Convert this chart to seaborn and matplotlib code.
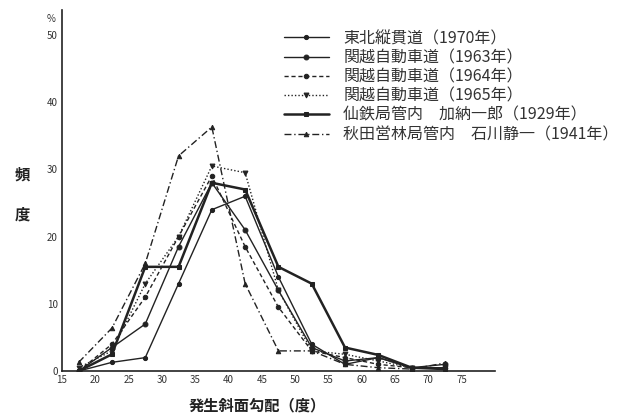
import matplotlib
matplotlib.use("Agg")
import matplotlib.pyplot as plt
import matplotlib.transforms as mtransforms
import pandas as pd
import seaborn as sns

# Slope-gradient classes (class midpoints, degrees)
slope_deg = [17.5, 22.5, 27.5, 32.5, 37.5, 42.5, 47.5, 52.5, 57.5, 62.5, 67.5, 72.5]

# Frequency (%) per slope class for each survey
tohoku_1970 = [0, 1.3, 2, 13, 24, 26, 14, 4, 1, 2, 0.5, 0.5]
kanetsu_1963 = [0, 3.5, 7, 18.5, 28, 21, 12, 3.5, 1.5, 2, 0.5, 1]
kanetsu_1964 = [0, 4, 11, 20, 29, 18.5, 9.5, 3, 2, 1, 0.5, 0.5]
kanetsu_1965 = [0.5, 3, 13, 20, 30.5, 29.5, 12, 3, 2.5, 1.5, 0.5, 0.5]
sentetsu_1929 = [0, 2.5, 15.5, 15.5, 28, 27, 15.5, 13, 3.5, 2.4, 0.5, 0.3]
akita_1941 = [1.3, 6.4, 16, 32, 36.3, 13, 3, 3, 1, 0.5, 0.3, 1.2]

series_labels = [
    "東北縦貫道（1970年）",
    "関越自動車道（1963年）",
    "関越自動車道（1964年）",
    "関越自動車道（1965年）",
    "仙鉄局管内　加納一郎（1929年）",
    "秋田営林局管内　石川静一（1941年）",
]
series_values = [tohoku_1970, kanetsu_1963, kanetsu_1964, kanetsu_1965,
                 sentetsu_1929, akita_1941]

x_ticks = [15, 20, 25, 30, 35, 40, 45, 50, 55, 60, 65, 70, 75]
y_ticks = [0, 10, 20, 30, 40, 50]

sns.set_theme(style="white")
plt.rcParams["font.family"] = ["Noto Sans CJK JP", "DejaVu Sans"]

ink = "#222222"
styles = [
    dict(linestyle="-", marker="o", markersize=3, linewidth=1.0),
    dict(linestyle="-", marker="o", markersize=3.5, linewidth=1.0),
    dict(linestyle=(0, (3, 2)), marker="o", markersize=3.2, linewidth=1.0),
    dict(linestyle=(0, (1, 1.5)), marker="v", markersize=3.5, linewidth=1.0),
    dict(linestyle="-", marker="s", markersize=3.2, linewidth=1.8),
    dict(linestyle=(0, (5, 2, 1, 2)), marker="^", markersize=3.2, linewidth=1.0),
]

rows = []
for label, vals in zip(series_labels, series_values):
    for x, v in zip(slope_deg, vals):
        rows.append({"slope": x, "freq": v, "series": label})
df = pd.DataFrame(rows)

fig = plt.figure(figsize=(6.24, 4.16), dpi=100)
ax = fig.add_axes([0.0994, 0.108, 0.6936, 0.868])

for label, st in zip(series_labels, styles):
    sub = df[df["series"] == label]
    sns.lineplot(data=sub, x="slope", y="freq", ax=ax, color=ink,
                 label=label, markeredgecolor=ink, markerfacecolor=ink, **st)

ax.set_xlim(15, 80)
ax.set_ylim(0, 53.7)
ax.set_xticks(x_ticks)
ax.set_yticks(y_ticks)
ax.tick_params(direction="in", length=4, width=0.8, colors=ink,
               labelsize=7, labelcolor="#333333", pad=3)
for side in ("top", "right"):
    ax.spines[side].set_visible(False)
for side in ("left", "bottom"):
    ax.spines[side].set_color(ink)
    ax.spines[side].set_linewidth(1.2)

ax.set_xlabel("")
ax.set_ylabel("")
fig.text(257 / 624, 1 - 405 / 416, "発生斜面勾配（度）", ha="center", va="center",
         fontsize=11, color="#222222", fontweight="bold")
fig.text(22 / 624, 1 - 175 / 416, "頻", ha="center", va="center",
         fontsize=11, color="#222222", fontweight="bold")
fig.text(22 / 624, 1 - 215 / 416, "度", ha="center", va="center",
         fontsize=11, color="#222222", fontweight="bold")

trans = mtransforms.blended_transform_factory(ax.transAxes, ax.transData)
ax.text(-0.015, 52.3, "%", transform=trans, ha="right", va="center",
        fontsize=7, color="#333333")

leg = ax.legend(loc="upper left", bbox_to_anchor=(284 / 624, 1 - 30 / 416),
                bbox_transform=fig.transFigure, frameon=False, fontsize=11.5,
                handlelength=2.8, labelspacing=0.14, handletextpad=0.9,
                borderaxespad=0, borderpad=0)
for t in leg.get_texts():
    t.set_color("#333333")

fig.savefig("out.png", dpi=100)
